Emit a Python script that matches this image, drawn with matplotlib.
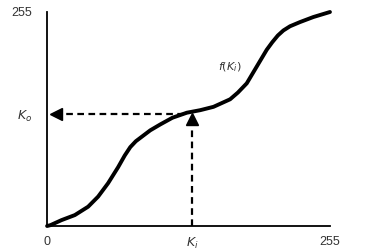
import matplotlib
matplotlib.use('Agg')
import matplotlib.pyplot as plt

# curve f(K_i)
curve_x = [0, 3, 13, 25, 37, 46, 55, 64, 70, 75, 80, 86, 93, 102, 113, 126, 138,
           150, 165, 172, 180, 189, 198, 203, 208, 213, 219, 228, 240, 255]
curve_y = [0, 1, 7, 13, 23, 35, 51, 70, 84, 94, 101, 107, 114, 121, 129, 135, 138,
           142, 151, 159, 170, 190, 210, 219, 227, 233, 238, 243, 249, 255]

ki = 131
ko = 133
x_ticks = [0, ki, 255]
x_tick_labels = ['0', '$K_i$', '255']

plt.rcParams['font.family'] = ['Liberation Sans', 'DejaVu Sans']

fig = plt.figure(figsize=(3.65, 2.5), dpi=100)
ax = fig.add_axes([0.129, 0.096, 0.775, 0.856])

ax.plot(curve_x, curve_y, color='black', lw=2.8, solid_capstyle='round',
        solid_joinstyle='round', clip_on=False)

# dashed projection lines with arrow heads
ax.plot([ki, ki], [0, 120], color='black', lw=1.6, ls=(0, (3, 2)))
ax.plot([ki], [127], marker='^', color='black', ms=9, clip_on=False)
ax.plot([ko - 10, 8], [ko, ko], color='black', lw=1.6, ls=(0, (3, 2)))
ax.plot([8], [ko], marker='<', color='black', ms=9, clip_on=False)

ax.set_xlim(0, 255)
ax.set_ylim(0, 255)
for s in ['top', 'right']:
    ax.spines[s].set_visible(False)
for s in ['left', 'bottom']:
    ax.spines[s].set_linewidth(1.3)

ax.set_xticks(x_ticks)
ax.set_xticklabels(x_tick_labels)
ax.set_yticks([ko, 255])
ax.set_yticklabels(['$K_o$', '255'])
ax.tick_params(length=0, labelsize=9, labelcolor='#333333')
ax.tick_params(axis='x', pad=7)
ax.tick_params(axis='y', pad=11)

ax.text(154, 186, '$f(K_i)$', fontsize=8, color='#333333')

fig.savefig('out.png', dpi=100)
